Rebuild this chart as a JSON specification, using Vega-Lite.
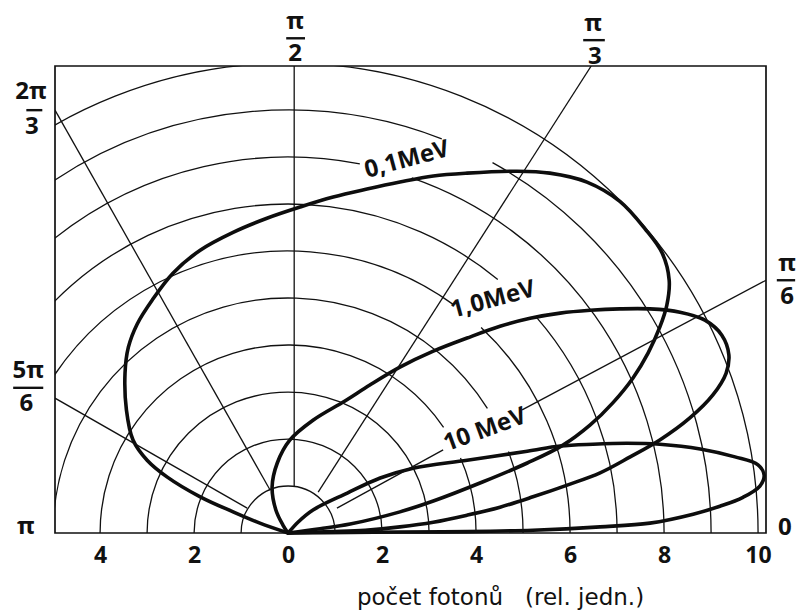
{
  "$schema": "https://vega.github.io/schema/vega-lite/v6.json",
  "width": 711,
  "height": 467,
  "autosize": {"type": "none"},
  "padding": {"left": 55, "top": 66, "right": 31, "bottom": 81},
  "background": "white",
  "config": {
    "view": {"stroke": "#111", "strokeWidth": 1.7},
    "font": "Open Sans"
  },
  "datasets": {
    "arcs": [
      {"r": 1, "a0": 0, "a1": 180},
      {"r": 2, "a0": 0, "a1": 180},
      {"r": 3, "a0": 0, "a1": 180},
      {"r": 4, "a0": 0, "a1": 23.5},
      {"r": 4, "a0": 34.2, "a1": 180},
      {"r": 5, "a0": 0, "a1": 20.3},
      {"r": 5, "a0": 32.0, "a1": 180},
      {"r": 6, "a0": 0, "a1": 46.8},
      {"r": 6, "a0": 54.0, "a1": 180},
      {"r": 7, "a0": 0, "a1": 40.9},
      {"r": 7, "a0": 50.4, "a1": 180},
      {"r": 8, "a0": 0, "a1": 70.8},
      {"r": 8, "a0": 79.0, "a1": 180},
      {"r": 9, "a0": 0, "a1": 61.1},
      {"r": 9, "a0": 68.7, "a1": 180},
      {"r": 10, "a0": 0, "a1": 180}
    ],
    "rays": [
      {"uhel": "π/6", "x": 1.04, "y": 0.53, "x2": 3.30, "y2": 1.77},
      {"uhel": "π/6", "x": 4.98, "y": 2.62, "x2": 10.17, "y2": 5.38},
      {"uhel": "π/3", "x": 0.64, "y": 0.87, "x2": 6.45, "y2": 9.94},
      {"uhel": "π/2", "x": 0.13, "y": 0.99, "x2": 0.13, "y2": 9.94},
      {"uhel": "2π/3", "x": -0.38, "y": 0.91, "x2": -4.96, "y2": 9.0},
      {"uhel": "5π/6", "x": -0.87, "y": 0.53, "x2": -4.96, "y2": 2.87}
    ],
    "lobes": [
      {"energie": "0,1 MeV", "i": 1, "x": 0, "y": 0},
      {"energie": "0,1 MeV", "i": 2, "x": 0.68, "y": 0.09},
      {"energie": "0,1 MeV", "i": 3, "x": 1.32, "y": 0.19},
      {"energie": "0,1 MeV", "i": 4, "x": 2.38, "y": 0.45},
      {"energie": "0,1 MeV", "i": 5, "x": 3.09, "y": 0.68},
      {"energie": "0,1 MeV", "i": 6, "x": 4.15, "y": 1.09},
      {"energie": "0,1 MeV", "i": 7, "x": 5.09, "y": 1.49},
      {"energie": "0,1 MeV", "i": 8, "x": 5.85, "y": 1.87},
      {"energie": "0,1 MeV", "i": 9, "x": 6.43, "y": 2.30},
      {"energie": "0,1 MeV", "i": 10, "x": 6.91, "y": 2.77},
      {"energie": "0,1 MeV", "i": 11, "x": 7.34, "y": 3.30},
      {"energie": "0,1 MeV", "i": 12, "x": 7.66, "y": 3.83},
      {"energie": "0,1 MeV", "i": 13, "x": 7.91, "y": 4.38},
      {"energie": "0,1 MeV", "i": 14, "x": 8.06, "y": 4.85},
      {"energie": "0,1 MeV", "i": 15, "x": 8.11, "y": 5.38},
      {"energie": "0,1 MeV", "i": 16, "x": 7.96, "y": 5.96},
      {"energie": "0,1 MeV", "i": 17, "x": 7.60, "y": 6.47},
      {"energie": "0,1 MeV", "i": 18, "x": 7.06, "y": 7.06},
      {"energie": "0,1 MeV", "i": 19, "x": 6.36, "y": 7.47},
      {"energie": "0,1 MeV", "i": 20, "x": 5.57, "y": 7.66},
      {"energie": "0,1 MeV", "i": 21, "x": 4.87, "y": 7.70},
      {"energie": "0,1 MeV", "i": 22, "x": 3.81, "y": 7.66},
      {"energie": "0,1 MeV", "i": 23, "x": 3.09, "y": 7.60},
      {"energie": "0,1 MeV", "i": 24, "x": 2.38, "y": 7.47},
      {"energie": "0,1 MeV", "i": 25, "x": 1.68, "y": 7.32},
      {"energie": "0,1 MeV", "i": 26, "x": 0.96, "y": 7.15},
      {"energie": "0,1 MeV", "i": 27, "x": 0.26, "y": 6.94},
      {"energie": "0,1 MeV", "i": 28, "x": -0.45, "y": 6.70},
      {"energie": "0,1 MeV", "i": 29, "x": -1.17, "y": 6.40},
      {"energie": "0,1 MeV", "i": 30, "x": -1.87, "y": 6.02},
      {"energie": "0,1 MeV", "i": 31, "x": -2.45, "y": 5.53},
      {"energie": "0,1 MeV", "i": 32, "x": -2.89, "y": 4.96},
      {"energie": "0,1 MeV", "i": 33, "x": -3.21, "y": 4.45},
      {"energie": "0,1 MeV", "i": 34, "x": -3.40, "y": 3.95},
      {"energie": "0,1 MeV", "i": 35, "x": -3.47, "y": 3.40},
      {"energie": "0,1 MeV", "i": 36, "x": -3.44, "y": 2.62},
      {"energie": "0,1 MeV", "i": 37, "x": -3.30, "y": 1.98},
      {"energie": "0,1 MeV", "i": 38, "x": -3.00, "y": 1.55},
      {"energie": "0,1 MeV", "i": 39, "x": -2.57, "y": 1.19},
      {"energie": "0,1 MeV", "i": 40, "x": -1.87, "y": 0.77},
      {"energie": "0,1 MeV", "i": 41, "x": -1.17, "y": 0.45},
      {"energie": "0,1 MeV", "i": 42, "x": -0.60, "y": 0.21},
      {"energie": "0,1 MeV", "i": 43, "x": 0, "y": 0},

      {"energie": "1,0 MeV", "i": 1, "x": 0, "y": 0},
      {"energie": "1,0 MeV", "i": 2, "x": 0.89, "y": 0.03},
      {"energie": "1,0 MeV", "i": 3, "x": 1.64, "y": 0.06},
      {"energie": "1,0 MeV", "i": 4, "x": 2.38, "y": 0.13},
      {"energie": "1,0 MeV", "i": 5, "x": 3.09, "y": 0.23},
      {"energie": "1,0 MeV", "i": 6, "x": 3.81, "y": 0.38},
      {"energie": "1,0 MeV", "i": 7, "x": 4.51, "y": 0.55},
      {"energie": "1,0 MeV", "i": 8, "x": 5.21, "y": 0.77},
      {"energie": "1,0 MeV", "i": 9, "x": 5.94, "y": 1.02},
      {"energie": "1,0 MeV", "i": 10, "x": 6.64, "y": 1.28},
      {"energie": "1,0 MeV", "i": 11, "x": 7.28, "y": 1.62},
      {"energie": "1,0 MeV", "i": 12, "x": 7.91, "y": 1.98},
      {"energie": "1,0 MeV", "i": 13, "x": 8.55, "y": 2.45},
      {"energie": "1,0 MeV", "i": 14, "x": 9.04, "y": 2.94},
      {"energie": "1,0 MeV", "i": 15, "x": 9.32, "y": 3.40},
      {"energie": "1,0 MeV", "i": 16, "x": 9.38, "y": 3.79},
      {"energie": "1,0 MeV", "i": 17, "x": 9.23, "y": 4.21},
      {"energie": "1,0 MeV", "i": 18, "x": 8.87, "y": 4.53},
      {"energie": "1,0 MeV", "i": 19, "x": 8.34, "y": 4.70},
      {"energie": "1,0 MeV", "i": 20, "x": 7.70, "y": 4.77},
      {"energie": "1,0 MeV", "i": 21, "x": 7.06, "y": 4.77},
      {"energie": "1,0 MeV", "i": 22, "x": 6.43, "y": 4.74},
      {"energie": "1,0 MeV", "i": 23, "x": 5.79, "y": 4.68},
      {"energie": "1,0 MeV", "i": 24, "x": 5.15, "y": 4.57},
      {"energie": "1,0 MeV", "i": 25, "x": 4.51, "y": 4.40},
      {"energie": "1,0 MeV", "i": 26, "x": 3.81, "y": 4.15},
      {"energie": "1,0 MeV", "i": 27, "x": 3.09, "y": 3.87},
      {"energie": "1,0 MeV", "i": 28, "x": 2.38, "y": 3.53},
      {"energie": "1,0 MeV", "i": 29, "x": 1.74, "y": 3.15},
      {"energie": "1,0 MeV", "i": 30, "x": 1.21, "y": 2.81},
      {"energie": "1,0 MeV", "i": 31, "x": 0.53, "y": 2.40},
      {"energie": "1,0 MeV", "i": 32, "x": 0.04, "y": 1.98},
      {"energie": "1,0 MeV", "i": 33, "x": -0.23, "y": 1.49},
      {"energie": "1,0 MeV", "i": 34, "x": -0.34, "y": 0.98},
      {"energie": "1,0 MeV", "i": 35, "x": -0.26, "y": 0.49},
      {"energie": "1,0 MeV", "i": 36, "x": -0.11, "y": 0.17},
      {"energie": "1,0 MeV", "i": 37, "x": 0, "y": 0},

      {"energie": "10 MeV", "i": 1, "x": 0, "y": 0},
      {"energie": "10 MeV", "i": 2, "x": 1.32, "y": 0.01},
      {"energie": "10 MeV", "i": 3, "x": 2.38, "y": 0.02},
      {"energie": "10 MeV", "i": 4, "x": 3.81, "y": 0.03},
      {"energie": "10 MeV", "i": 5, "x": 5.21, "y": 0.06},
      {"energie": "10 MeV", "i": 6, "x": 6.64, "y": 0.13},
      {"energie": "10 MeV", "i": 7, "x": 7.70, "y": 0.21},
      {"energie": "10 MeV", "i": 8, "x": 8.62, "y": 0.40},
      {"energie": "10 MeV", "i": 9, "x": 9.19, "y": 0.57},
      {"energie": "10 MeV", "i": 10, "x": 9.68, "y": 0.76},
      {"energie": "10 MeV", "i": 11, "x": 10.04, "y": 1.00},
      {"energie": "10 MeV", "i": 12, "x": 10.13, "y": 1.23},
      {"energie": "10 MeV", "i": 13, "x": 10.00, "y": 1.45},
      {"energie": "10 MeV", "i": 14, "x": 9.51, "y": 1.62},
      {"energie": "10 MeV", "i": 15, "x": 8.77, "y": 1.79},
      {"energie": "10 MeV", "i": 16, "x": 7.91, "y": 1.89},
      {"energie": "10 MeV", "i": 17, "x": 7.21, "y": 1.91},
      {"energie": "10 MeV", "i": 18, "x": 6.49, "y": 1.89},
      {"energie": "10 MeV", "i": 19, "x": 5.79, "y": 1.85},
      {"energie": "10 MeV", "i": 20, "x": 5.09, "y": 1.74},
      {"energie": "10 MeV", "i": 21, "x": 3.81, "y": 1.55},
      {"energie": "10 MeV", "i": 22, "x": 2.66, "y": 1.38},
      {"energie": "10 MeV", "i": 23, "x": 1.96, "y": 1.17},
      {"energie": "10 MeV", "i": 24, "x": 1.26, "y": 0.85},
      {"energie": "10 MeV", "i": 25, "x": 0.53, "y": 0.49},
      {"energie": "10 MeV", "i": 26, "x": 0.21, "y": 0.23},
      {"energie": "10 MeV", "i": 27, "x": 0, "y": 0}
    ],
    "curveLabels": [
      {"text": "0,1MeV", "x": 2.53, "y": 7.94},
      {"text": "1,0MeV", "x": 4.36, "y": 4.96},
      {"text": "10 MeV", "x": 4.19, "y": 2.19}
    ],
    "angleText": [
      {"text": "π", "x": 0.15, "y": 10.87},
      {"text": "2", "x": 0.15, "y": 10.19},
      {"text": "π", "x": 6.49, "y": 10.83},
      {"text": "3", "x": 6.53, "y": 10.13},
      {"text": "π", "x": 10.62, "y": 5.72},
      {"text": "6", "x": 10.62, "y": 5.03},
      {"text": "2π", "x": -5.47, "y": 9.38},
      {"text": "3", "x": -5.45, "y": 8.64},
      {"text": "5π", "x": -5.53, "y": 3.45},
      {"text": "6", "x": -5.57, "y": 2.74},
      {"text": "π", "x": -5.58, "y": 0.13},
      {"text": "0", "x": 10.57, "y": 0.11}
    ],
    "angleBars": [
      {"x": -0.04, "x2": 0.36, "y": 10.53},
      {"x": 6.28, "x2": 6.74, "y": 10.49},
      {"x": 10.40, "x2": 10.79, "y": 5.38},
      {"x": -5.57, "x2": -5.23, "y": 9.0},
      {"x": -5.85, "x2": -5.21, "y": 3.09}
    ]
  },
  "layer": [
    {
      "data": {"name": "lobes"},
      "mark": {"type": "line", "interpolate": "catmull-rom", "stroke": "#0d0d0d", "strokeWidth": 3.6, "strokeJoin": "round", "strokeCap": "round"},
      "encoding": {
        "x": {
          "field": "x", "type": "quantitative",
          "scale": {"domain": [-4.96, 10.17], "nice": false, "zero": false},
          "axis": {
            "values": [-4, -2, 0, 2, 4, 6, 8, 10],
            "labelExpr": "'' + abs(datum.value)",
            "domain": false, "ticks": false, "tickSize": 0, "grid": false,
            "labelFlush": false, "labelOverlap": false,
            "labelFont": "Open Sans", "labelFontSize": 23, "labelFontWeight": 700, "labelColor": "#111",
            "labelBaseline": "middle", "labelPadding": 22,
            "title": "počet fotonů\u00a0\u00a0\u00a0(rel. jedn.)",
            "titleFont": "DejaVu Sans", "titleFontSize": 23, "titleFontWeight": 500, "titleColor": "#111",
            "titleX": 445, "titleY": 64, "titleAlign": "center", "titleBaseline": "middle", "titleAnchor": "start"
          }
        },
        "y": {"field": "y", "type": "quantitative", "scale": {"domain": [0, 9.94], "nice": false, "zero": false}, "axis": null},
        "detail": {"field": "energie", "type": "nominal"},
        "order": {"field": "i", "type": "quantitative"}
      }
    },
    {
      "data": {"name": "arcs"},
      "mark": {"type": "arc", "filled": false, "stroke": "#111", "strokeWidth": 1.3, "clip": true},
      "encoding": {
        "x": {"datum": 0, "type": "quantitative"},
        "y": {"datum": 0, "type": "quantitative", "axis": null},
        "theta": {"field": "a0", "type": "quantitative", "stack": null, "scale": {"type": "linear", "domain": [0, 180], "range": [1.5707963, -1.5707963]}},
        "theta2": {"field": "a1"},
        "radius": {"field": "r", "type": "quantitative", "scale": {"type": "linear", "domain": [0, 10], "range": [0, 470], "zero": true}},
        "radius2": {"field": "r"}
      }
    },
    {
      "data": {"name": "rays"},
      "mark": {"type": "rule", "stroke": "#111", "strokeWidth": 1.3, "clip": true},
      "encoding": {
        "x": {"field": "x", "type": "quantitative"},
        "y": {"field": "y", "type": "quantitative", "axis": null},
        "x2": {"field": "x2"},
        "y2": {"field": "y2"}
      }
    },
    {
      "data": {"name": "curveLabels"},
      "transform": [{"filter": "datum.text != '10 MeV'"}],
      "mark": {"type": "text", "font": "Open Sans", "fontSize": 24, "fontWeight": 700, "color": "#111", "angle": 345, "align": "center", "baseline": "middle"},
      "encoding": {
        "x": {"field": "x", "type": "quantitative"},
        "y": {"field": "y", "type": "quantitative", "axis": null},
        "text": {"field": "text"}
      }
    },
    {
      "data": {"name": "curveLabels"},
      "transform": [{"filter": "datum.text == '10 MeV'"}],
      "mark": {"type": "text", "font": "Open Sans", "fontSize": 24, "fontWeight": 700, "color": "#111", "angle": 340, "align": "center", "baseline": "middle"},
      "encoding": {
        "x": {"field": "x", "type": "quantitative"},
        "y": {"field": "y", "type": "quantitative", "axis": null},
        "text": {"field": "text"}
      }
    },
    {
      "data": {"name": "angleText"},
      "mark": {"type": "text", "font": "Open Sans", "fontSize": 24, "fontWeight": 700, "color": "#111", "align": "center", "baseline": "middle"},
      "encoding": {
        "x": {"field": "x", "type": "quantitative"},
        "y": {"field": "y", "type": "quantitative", "axis": null},
        "text": {"field": "text"}
      }
    },
    {
      "data": {"name": "angleBars"},
      "mark": {"type": "rule", "stroke": "#111", "strokeWidth": 2.4},
      "encoding": {
        "x": {"field": "x", "type": "quantitative"},
        "y": {"field": "y", "type": "quantitative", "axis": null},
        "x2": {"field": "x2"}
      }
    }
  ]
}
